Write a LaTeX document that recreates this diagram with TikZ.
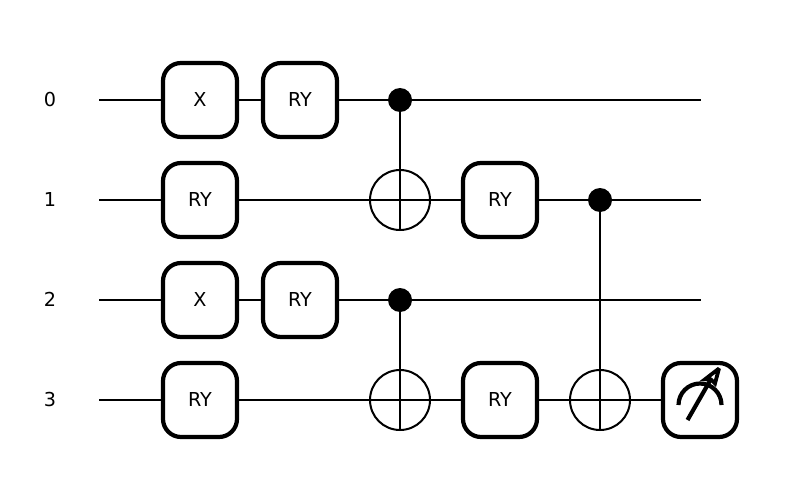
\documentclass[tikz,border=0pt]{standalone}
\usepackage{fontspec}
\setmainfont{DejaVu Sans}
\tikzset{
  x=1pt,y=-1pt,
  wire/.style={line width=2pt,black,line cap=rect},
  stem/.style={line width=2pt,black},
  gatebox/.style={draw=black,fill=white,line width=4.2pt,rounded corners=18pt,minimum width=74pt,minimum height=74pt,inner sep=0pt,outer sep=0pt,font=\fontsize{19.2}{19.2}\selectfont},
  wirelabel/.style={font=\fontsize{19.2}{19.2}\selectfont,inner sep=0pt},
  ctrl/.style={circle,fill=black,minimum size=24pt,inner sep=0pt,outer sep=0pt},
  targ/.style={circle,draw=black,line width=2pt,fill=none,minimum size=60pt,inner sep=0pt,outer sep=0pt},
  meter/.style={line width=4.2pt,line cap=butt},
}
\newcommand{\gl}[1]{\raisebox{0.7pt}{#1}}
\begin{document}
\begin{tikzpicture}
\useasboundingbox (0,0) rectangle (800,500);
% wire labels and free ends
\node[wirelabel] (l0) at (50,100) {\gl{0}};
\node[wirelabel] (l1) at (50,200) {\gl{1}};
\node[wirelabel] (l2) at (50,300) {\gl{2}};
\node[wirelabel] (l3) at (50,400) {\gl{3}};
\coordinate (s0) at (100,100);
\coordinate (s1) at (100,200);
\coordinate (s2) at (100,300);
\coordinate (s3) at (100,400);
\coordinate (e0) at (700,100);
\coordinate (e1) at (700,200);
\coordinate (e2) at (700,300);
\coordinate (e3) at (700,400);
% wires
\draw[wire] (s0) -- (e0);
\draw[wire] (s1) -- (e1);
\draw[wire] (s2) -- (e2);
\draw[wire] (s3) -- (e3);
% controlled gates
\node[ctrl] (c0) at (400,100) {};
\node[targ] (t1) at (400,200) {};
\node[ctrl] (c2) at (400,300) {};
\node[targ] (t3a) at (400,400) {};
\node[ctrl] (c1) at (600,200) {};
\node[targ] (t3b) at (600,400) {};
\draw[stem] (c0.center) -- (t1.south);
\draw[stem] (c2.center) -- (t3a.south);
\draw[stem] (c1.center) -- (t3b.south);
% gates
\node[gatebox] (g1) at (200,100) {\gl{X}};
\node[gatebox] (g2) at (300,100) {\gl{RY}};
\node[gatebox] (g3) at (200,200) {\gl{RY}};
\node[gatebox] (g4) at (500,200) {\gl{RY}};
\node[gatebox] (g5) at (200,300) {\gl{X}};
\node[gatebox] (g6) at (300,300) {\gl{RY}};
\node[gatebox] (g7) at (200,400) {\gl{RY}};
\node[gatebox] (g8) at (500,400) {\gl{RY}};
\node[gatebox] (m) at (700,400) {};
% meter
\draw[meter] (678.5,405) arc[start angle=180,end angle=360,radius=21.5];
\draw[meter] (687.5,420) -- (711,379);
\draw[line width=3.8pt,fill=white,line join=miter,miter limit=3] (719,368.5) -- (705,379.3) -- (711,379.5) -- (715,383.5) -- cycle;
\end{tikzpicture}
\end{document}
